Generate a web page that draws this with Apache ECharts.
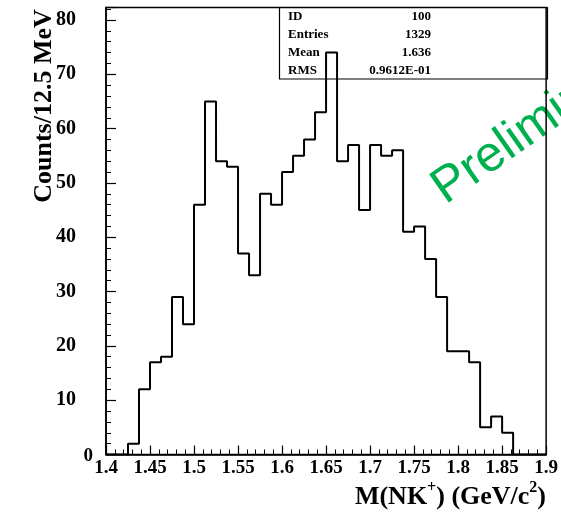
<!DOCTYPE html>
<html><head><meta charset="utf-8">
<script src="https://cdn.jsdelivr.net/npm/echarts@6/dist/echarts.min.js"></script>
<style>html,body{margin:0;padding:0;background:#fff}#c{width:561px;height:518px}</style>
</head><body><div id="c"></div>
<script>
// histogram: 40 bins of 12.5 MeV from 1.4 to 1.9 GeV/c^2
const binStart = 1.4;
const binWidth = 0.0125;
const counts = [0,0,2,12,17,18,29,24,46,65,54,53,37,33,48,46,52,55,58,63,
                74,54,57,45,57,55,56,41,42,36,29,19,19,17,5,7,4,0,0,0];
const statLabels = ['ID','Entries','Mean','RMS'];
const statValues = ['100','1329','1.636','0.9612E-01'];
const yTitle = 'Counts/12.5 MeV';
const watermark = 'Preliminary';

const serif = "'Liberation Serif','Times New Roman',serif";
const pts = counts.map((c, i) => [binStart + i * binWidth, c]);
pts.push([binStart + counts.length * binWidth, counts[counts.length - 1]]);

const G = {left:106, top:7.5, right:547.5, bottom:454.5};

const graphics = [];
graphics.push({type:'text', z:-10, x:452, y:214, rotation: 35*Math.PI/180,
  style:{text:watermark, x:0, y:0, align:'left', verticalAlign:'bottom',
         font:"50px 'Liberation Sans', Arial, sans-serif", fill:'#00b04f'}});
graphics.push({type:'rect', z:5, shape:{x:279.5, y:G.top, width:G.right-279.5, height:71.5},
  style:{fill:'none', stroke:'#000', lineWidth:1.2}});
statLabels.forEach((l, i) => {
  const y = 17 + i * 18;
  graphics.push({type:'text', z:6, style:{text:l, x:288, y:y, align:'left', verticalAlign:'middle',
    font:"bold 13px " + serif, fill:'#000'}});
  graphics.push({type:'text', z:6, style:{text:statValues[i], x:431, y:y, align:'right', verticalAlign:'middle',
    font:"bold 13px " + serif, fill:'#000'}});
});
graphics.push({type:'text', z:6, x:44, y:106, rotation: Math.PI/2,
  style:{text:yTitle, x:0, y:0, align:'center', verticalAlign:'middle',
         font:"bold 26px " + serif, fill:'#000'}});
graphics.push({type:'text', z:6,
  style:{x:546, y:510, align:'right', verticalAlign:'bottom',
    text:'{m|M(NK}{s|+}{m|) (GeV/c}{s|2}{m|)}',
    rich:{m:{fontFamily:serif, fontWeight:'bold', fontSize:26, lineHeight:30, fill:'#000', verticalAlign:'bottom'},
          s:{fontFamily:serif, fontWeight:'bold', fontSize:16, lineHeight:30, fill:'#000', verticalAlign:'top'}}}});

const chart = echarts.init(document.getElementById('c'), null, {renderer:'canvas'});
chart.setOption({
  animation:false,
  backgroundColor:'#fff',
  grid:{left:G.left, top:G.top, width:G.right-G.left, height:G.bottom-G.top,
        show:true, borderColor:'#000', borderWidth:1.5, containLabel:false},
  xAxis:{type:'value', min:1.4, max:1.9, interval:0.05,
    axisLine:{onZero:false, lineStyle:{color:'#000', width:1.5}},
    axisTick:{inside:true, length:9, lineStyle:{color:'#000', width:1.2}},
    minorTick:{show:true, splitNumber:5, length:5, lineStyle:{color:'#000', width:1}},
    splitLine:{show:false},
    axisLabel:{margin:4, color:'#000', fontFamily:serif, fontWeight:'bold', fontSize:19,
      formatter:v => String(parseFloat(v.toFixed(3)))}},
  yAxis:{type:'value', min:0, max:82.3, interval:10,
    axisLine:{onZero:false, lineStyle:{color:'#000', width:1.5}},
    axisTick:{inside:true, length:10, lineStyle:{color:'#000', width:1.2}},
    minorTick:{show:true, splitNumber:5, length:5, lineStyle:{color:'#000', width:1}},
    splitLine:{show:false},
    axisLabel:{margin:13, color:'#000', fontFamily:serif, fontWeight:'bold', fontSize:20,
      showMaxLabel:false,
      formatter:v => v === 0 ? '{z|0}' : '{n|' + Math.round(v) + '}',
      rich:{z:{fontFamily:serif, fontWeight:'bold', fontSize:19, color:'#000', padding:[4,0,0,0]},
            n:{fontFamily:serif, fontWeight:'bold', fontSize:20, color:'#000', padding:[0,17,0,0]}}}},
  series:[{type:'line', step:'end', data:pts, symbol:'none',
    lineStyle:{color:'#000', width:2}, z:3}],
  graphic:graphics
});
</script></body></html>
